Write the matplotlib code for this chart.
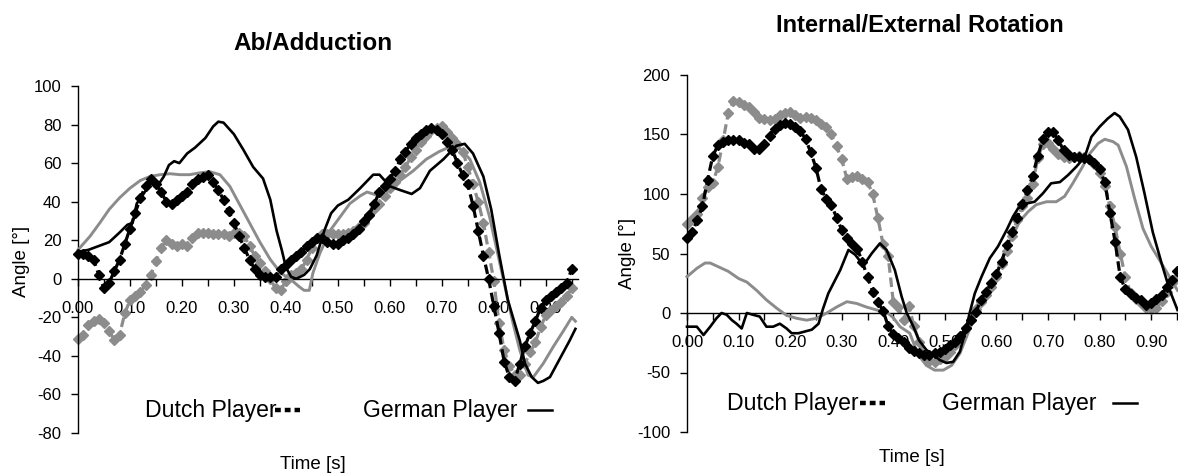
import numpy as np
import matplotlib
matplotlib.use("Agg")
import matplotlib.pyplot as plt
from matplotlib.lines import Line2D

plt.rcParams['font.family'] = ['Liberation Sans', 'DejaVu Sans']
plt.rcParams['axes.unicode_minus'] = False

W, H = 1178, 473
BLACK = '#000000'
GRAY = '#8c8c8c'

# time of the marker series (one sample every 0.01 s)
t_dutch = np.round(np.arange(96) * 0.01, 2)

# ---------------- Ab/Adduction ----------------
ab_dutch_black = [13, 13, 12, 10, 2, -5, -2, 4, 10, 18,
                  26, 34, 42, 48, 52, 49, 45, 40, 39, 41,
                  43, 45, 49, 52, 53, 54, 50, 46, 41, 35,
                  29, 22, 16, 10, 5, 2, 1, 1, 1, 5,
                  7, 10, 12, 14, 17, 19, 21, 21, 19, 18,
                  18, 20, 21, 23, 26, 30, 33, 39, 45, 48,
                  52, 56, 62, 66, 70, 73, 75, 77, 78, 77,
                  75, 71, 67, 60, 54, 49, 38, 25, 12, 0,
                  -14, -28, -43, -51, -53, -44, -35, -28, -22, -15,
                  -11, -9, -7, -5, -2, 5]
ab_dutch_gray = [-31, -29, -24, -22, -21, -23, -27, -32, -29, -18,
                 -11, -9, -7, -3, 2, 9, 16, 20, 18, 17,
                 18, 17, 21, 24, 24, 24, 23, 23, 23, 22,
                 24, 24, 22, 17, 12, 8, 4, 0, -5, -6,
                 -1, 2, 3, 5, 10, 16, 21, 23, 23, 23,
                 23, 23, 24, 25, 27, 29, 33, 36, 39, 43,
                 47, 50, 54, 58, 63, 67, 71, 74, 77, 78,
                 79, 76, 73, 70, 66, 58, 49, 40, 29, 14,
                 -1, -23, -37, -45, -50, -50, -44, -38, -33, -25,
                 -19, -16, -14, -12, -9, -5]

ab_german_black_t = [0.00, 0.02, 0.04, 0.06, 0.08, 0.095, 0.105, 0.113, 0.126, 0.145,
                     0.155, 0.165, 0.175, 0.185, 0.195, 0.21, 0.225, 0.245, 0.26, 0.27,
                     0.28, 0.30, 0.318, 0.337, 0.356, 0.37, 0.382, 0.392, 0.40, 0.41,
                     0.42, 0.435, 0.446, 0.459, 0.474, 0.487, 0.50, 0.52, 0.543, 0.568,
                     0.58, 0.60, 0.62, 0.642, 0.658, 0.677, 0.703, 0.728, 0.744, 0.76,
                     0.78, 0.795, 0.81, 0.827, 0.85, 0.86, 0.873, 0.885, 0.895, 0.908,
                     0.926, 0.946, 0.957]
ab_german_black = [14, 15, 17, 19, 24, 28, 29, 39, 44, 52,
                   49, 53, 59, 61, 60, 65, 68, 73, 79, 81.5,
                   81, 75, 67, 58, 52, 41, 25, 15, 6, 1,
                   0, 2, 5, 12, 25, 34, 38, 41, 47, 54,
                   54, 48, 46, 44, 47, 56, 62, 69, 70, 65,
                   53, 36, 13, -11, -32, -44, -51, -54, -53, -51,
                   -42, -32, -26]

ab_german_gray_t = [0.00, 0.023, 0.042, 0.06, 0.08, 0.10, 0.12, 0.138, 0.158, 0.177,
                    0.196, 0.215, 0.235, 0.254, 0.273, 0.292, 0.31, 0.33, 0.35, 0.37,
                    0.39, 0.41, 0.425, 0.435, 0.445, 0.452, 0.465, 0.485, 0.504, 0.523,
                    0.543, 0.556, 0.568, 0.58, 0.60, 0.62, 0.645, 0.67, 0.695, 0.72,
                    0.737, 0.754, 0.773, 0.792, 0.81, 0.827, 0.837, 0.85, 0.866, 0.876,
                    0.895, 0.915, 0.934, 0.95, 0.957]
ab_german_gray = [15, 22, 29, 36, 42, 47, 51, 53, 54, 54.5,
                  54, 54, 55, 55.5, 54, 48, 39, 29, 19, 10,
                  3, -0.5, -4, -6, -6, 3, 13, 25, 32, 39,
                  43, 45, 44, 43, 47, 51, 56, 62, 66, 69,
                  67, 62, 50, 32, 10, -11, -23, -37, -50, -51,
                  -44, -35, -27, -20, -22]

# ---------------- Internal/External Rotation ----------------
rot_dutch_black = [63, 68, 78, 90, 112, 132, 141, 144, 145, 145,
                   145, 143, 142, 138, 138, 142, 149, 155, 158, 160,
                   159, 156, 153, 146, 135, 122, 104, 96, 91, 80,
                   70, 63, 58, 54, 43, 30, 18, 9, 2, -11,
                   -18, -21, -24, -29, -32, -34, -35, -35, -34, -33,
                   -30, -27, -24, -19, -13, -6, 1, 11, 18, 25,
                   33, 43, 57, 68, 80, 92, 103, 115, 132, 146,
                   152, 152, 145, 137, 133, 131, 131, 130, 129, 126,
                   121, 110, 84, 60, 30, 20, 16, 13, 11, 7,
                   8, 12, 15, 22, 28, 35]
rot_dutch_gray = [75, 79, 83, 97, 106, 109, 123, 145, 168, 178,
                  177, 175, 173, 169, 164, 163, 162, 163, 166, 168,
                  169, 166, 164, 165, 164, 162, 159, 156, 150, 140,
                  129, 113, 114, 115, 113, 110, 100, 80, 58, 48,
                  9, 5, -6, 6, -11, -24, -35, -40, -41, -39,
                  -37, -33, -27, -21, -13, -6, 3, 9, 15, 22,
                  30, 41, 52, 65, 78, 90, 97, 108, 130, 142,
                  143, 138, 134, 131, 130, 131, 132, 131, 129, 125,
                  118, 107, 90, 72, 50, 30, 17, 12, 8, 4,
                  3, 4, 10, 18, 25, 30]

rot_german_black_t = [0.00, 0.019, 0.032, 0.045, 0.057, 0.067, 0.077, 0.087, 0.096, 0.106,
                      0.116, 0.128, 0.141, 0.154, 0.167, 0.18, 0.193, 0.203, 0.216, 0.229,
                      0.242, 0.255, 0.264, 0.274, 0.284, 0.297, 0.313, 0.326, 0.342, 0.358,
                      0.374, 0.387, 0.403, 0.416, 0.426, 0.439, 0.45, 0.464, 0.477, 0.49,
                      0.503, 0.516, 0.529, 0.539, 0.548, 0.558, 0.571, 0.587, 0.603, 0.62,
                      0.632, 0.642, 0.658, 0.674, 0.69, 0.706, 0.723, 0.739, 0.755, 0.771,
                      0.784, 0.80, 0.816, 0.829, 0.839, 0.855, 0.871, 0.887, 0.903, 0.92,
                      0.936, 0.951]
rot_german_black = [-11.5, -11.5, -18.5, -11.5, -4.5, 0, -1.5, -6, -9, -13,
                    0, -1.5, -3, -11.5, -11.5, -9, -13, -17, -17, -15.5,
                    -14, -9, 4, 16.5, 25, 36, 53, 49, 40, 50,
                    58.5, 53, 36, 14, 0, -11.5, -23, -31, -35, -39.5,
                    -42, -41, -32.5, -17, 0, 16.5, 30.5, 46, 56, 70,
                    81, 88, 92, 93.5, 100.5, 109, 110, 116, 123, 131,
                    148, 156.5, 163.5, 168, 165, 154, 131, 100.5, 68, 42,
                    19, 2.5]

rot_german_gray_t = [0.00, 0.019, 0.035, 0.045, 0.06, 0.08, 0.10, 0.116, 0.135, 0.154,
                     0.174, 0.193, 0.213, 0.232, 0.251, 0.271, 0.29, 0.31, 0.329, 0.348,
                     0.368, 0.389, 0.40, 0.413, 0.432, 0.448, 0.464, 0.48, 0.497, 0.513,
                     0.529, 0.542, 0.555, 0.568, 0.581, 0.597, 0.613, 0.629, 0.645, 0.661,
                     0.677, 0.697, 0.716, 0.732, 0.748, 0.765, 0.781, 0.797, 0.81, 0.826,
                     0.836, 0.852, 0.868, 0.884, 0.90, 0.916, 0.932, 0.951]
rot_german_gray = [30.5, 37.5, 42, 42, 39, 35, 29, 26, 19, 11,
                   4, -2, -4.5, -6, -4.5, 0, 5, 9.5, 8, 5,
                   2.5, 0, -4, -11.5, -17, -35, -44, -48, -48, -44,
                   -34, -20, -6, 8, 19, 30.5, 47, 63, 77, 85,
                   91, 93.5, 93.5, 98, 109, 121.5, 134, 142.5, 146, 144,
                   141, 123, 96, 71, 56, 44.5, 33, 19]

x_labels = ['0.00', '0.10', '0.20', '0.30', '0.40', '0.50', '0.60', '0.70', '0.80', '0.90']


def px_box(x0, y0, x1, y1):
    return [x0 / W, 1 - y1 / H, (x1 - x0) / W, (y1 - y0) / H]


def style_axes(ax, ylim, ystep, xmax):
    ax.set_xlim(0, xmax)
    ax.set_ylim(*ylim)
    ax.spines['top'].set_visible(False)
    ax.spines['right'].set_visible(False)
    ax.spines['bottom'].set_position(('data', 0))
    for s in ('left', 'bottom'):
        ax.spines[s].set_linewidth(1.0)
        ax.spines[s].set_color('black')
    ax.set_xticks(np.arange(10) * 0.1)
    ax.set_xticklabels(x_labels)
    ax.set_xticks(np.arange(10) * 0.1 + 0.05, minor=True)
    ax.set_yticks(np.arange(ylim[0], ylim[1] + 1, ystep))
    ax.tick_params(axis='x', which='both', direction='out', length=5, width=1,
                   pad=11, labelsize=12)
    ax.tick_params(axis='y', direction='out', length=5, width=1, pad=7, labelsize=12)
    ax.patch.set_visible(False)


def draw(ax, d_black, d_gray, gb_t, gb, gg_t, gg):
    ax.plot(t_dutch, d_gray, color=GRAY, ls=(0, (3, 1.5)), lw=2.3,
            marker='D', ms=5.2, mec=GRAY, mfc=GRAY, clip_on=False, zorder=2)
    ax.plot(gg_t, gg, color=GRAY, lw=2.1, clip_on=False, zorder=3)
    ax.plot(t_dutch, d_black, color=BLACK, ls=(0, (3, 1.5)), lw=2.3,
            marker='D', ms=5.2, mec=BLACK, mfc=BLACK, clip_on=False, zorder=4)
    ax.plot(gb_t, gb, color=BLACK, lw=1.9, clip_on=False, zorder=5)


fig = plt.figure(figsize=(W / 100, H / 100), dpi=100)

ax1 = fig.add_axes(px_box(78, 86, 578, 433))
draw(ax1, ab_dutch_black, ab_dutch_gray, ab_german_black_t, ab_german_black,
     ab_german_gray_t, ab_german_gray)
style_axes(ax1, (-80, 100), 20, 0.962)

ax2 = fig.add_axes(px_box(687, 75, 1177, 432))
draw(ax2, rot_dutch_black, rot_dutch_gray, rot_german_black_t, rot_german_black,
     rot_german_gray_t, rot_german_gray)
style_axes(ax2, (-100, 200), 50, 0.95)


def ftext(x, y, s, **kw):
    fig.text(x / W, 1 - y / H, s, ha='center', va='center', **kw)


ftext(313, 43, 'Ab/Adduction', fontsize=17.5, fontweight='bold')
ftext(920, 25, 'Internal/External Rotation', fontsize=17, fontweight='bold')
ftext(22, 261, 'Angle [°]', fontsize=13.5, rotation=90)
ftext(627, 253, 'Angle [°]', fontsize=13.5, rotation=90)
ftext(313, 464, 'Time [s]', fontsize=13.5)
ftext(912, 457, 'Time [s]', fontsize=13.5)

# legend-like texts with line samples
legend_items = [
    (145, 410, 'Dutch Player', 275, 300, 'dots'),
    (363, 410, 'German Player', 528, 552, 'line'),
    (727, 403, 'Dutch Player', 860, 885, 'dots'),
    (942, 403, 'German Player', 1113, 1137, 'line'),
]
for x, y, s, lx0, lx1, kind in legend_items:
    fig.text(x / W, 1 - y / H, s, ha='left', va='center', fontsize=16.6)
    if kind == 'dots':
        ln = Line2D([lx0 / W, lx1 / W], [1 - y / H, 1 - y / H], transform=fig.transFigure,
                    color='black', lw=3.2, dashes=(1.3, 0.9))
    else:
        ln = Line2D([lx0 / W, lx1 / W], [1 - y / H, 1 - y / H], transform=fig.transFigure,
                    color='black', lw=1.8)
    fig.add_artist(ln)

fig.savefig('out.png', dpi=100)
